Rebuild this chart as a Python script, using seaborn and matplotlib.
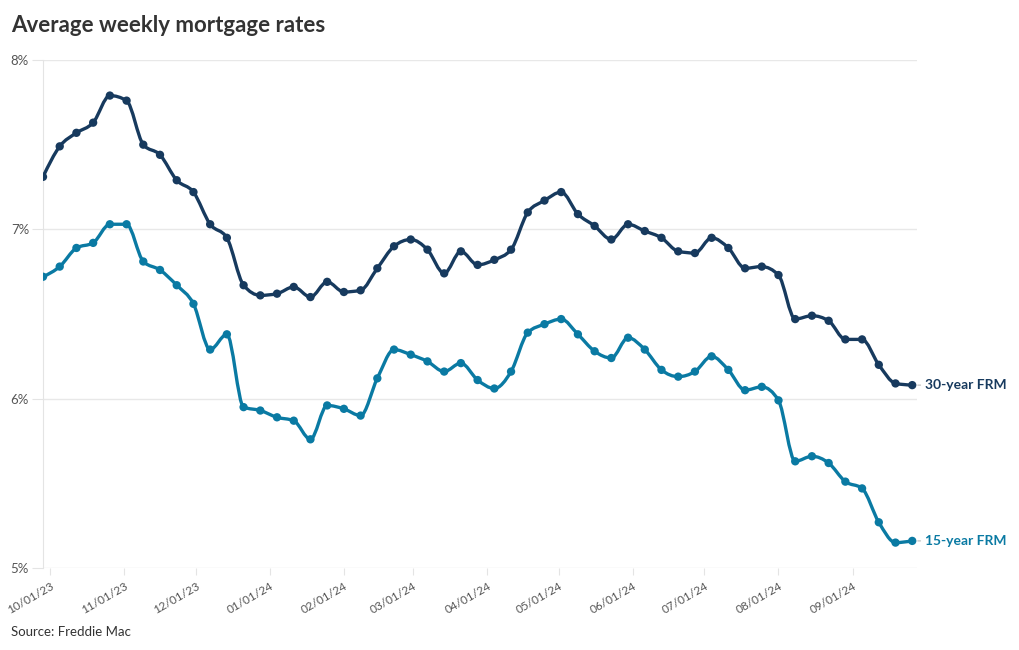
import numpy as np
import pandas as pd
import matplotlib
matplotlib.use("Agg")
import matplotlib.pyplot as plt
import matplotlib.dates as mdates
from matplotlib.path import Path
from matplotlib.patches import PathPatch
import seaborn as sns

dates = pd.date_range("2023-09-28", "2024-09-26", freq="7D")
rate_30 = [7.31, 7.49, 7.57, 7.63, 7.79, 7.76, 7.50, 7.44, 7.29, 7.22, 7.03, 6.95, 6.67,
           6.61, 6.62, 6.66, 6.60, 6.69, 6.63, 6.64, 6.77, 6.90, 6.94, 6.88, 6.74, 6.87,
           6.79, 6.82, 6.88, 7.10, 7.17, 7.22, 7.09, 7.02, 6.94, 7.03, 6.99, 6.95, 6.87,
           6.86, 6.95, 6.89, 6.77, 6.78, 6.73, 6.47, 6.49, 6.46, 6.35, 6.35, 6.20, 6.09, 6.08]
rate_15 = [6.72, 6.78, 6.89, 6.92, 7.03, 7.03, 6.81, 6.76, 6.67, 6.56, 6.29, 6.38, 5.95,
           5.93, 5.89, 5.87, 5.76, 5.96, 5.94, 5.90, 6.12, 6.29, 6.26, 6.22, 6.16, 6.21,
           6.11, 6.06, 6.16, 6.39, 6.44, 6.47, 6.38, 6.28, 6.24, 6.36, 6.29, 6.17, 6.13,
           6.16, 6.25, 6.17, 6.05, 6.07, 5.99, 5.63, 5.66, 5.62, 5.51, 5.47, 5.27, 5.15, 5.16]
series_names = ["30-year FRM", "15-year FRM"]
series_colors = ["#173a5e", "#0a7aa3"]
y_ticks = [5, 6, 7, 8]
x_ticks = pd.date_range("2023-10-01", "2024-09-01", freq="MS")

df = pd.DataFrame({"date": list(dates) * 2,
                   "rate": rate_30 + rate_15,
                   "series": [series_names[0]] * len(dates) + [series_names[1]] * len(dates)})

plt.rcParams["font.family"] = ["Lato", "DejaVu Sans"]
fig = plt.figure(figsize=(10.2, 6.5), dpi=100)
ax = fig.add_axes([43 / 1020, 1 - 568 / 650, (917 - 43) / 1020, (568 - 60) / 650])


def monotone_path(x, y):
    x = np.asarray(x, float)
    y = np.asarray(y, float)
    n = len(x)
    h = np.diff(x)
    s = np.diff(y) / h
    t = np.zeros(n)
    for i in range(1, n - 1):
        if s[i - 1] * s[i] <= 0:
            t[i] = 0
        else:
            p = (s[i - 1] * h[i] + s[i] * h[i - 1]) / (h[i - 1] + h[i])
            t[i] = (np.sign(s[i - 1]) + np.sign(s[i])) * min(abs(s[i - 1]), abs(s[i]), 0.5 * abs(p))
    t[0] = (3 * s[0] - t[1]) / 2 if n > 2 else s[0]
    t[-1] = (3 * s[-1] - t[-2]) / 2 if n > 2 else s[-1]
    verts = [(x[0], y[0])]
    codes = [Path.MOVETO]
    for i in range(n - 1):
        dx = h[i] / 3
        verts += [(x[i] + dx, y[i] + dx * t[i]), (x[i + 1] - dx, y[i + 1] - dx * t[i + 1]), (x[i + 1], y[i + 1])]
        codes += [Path.CURVE4] * 3
    return Path(verts, codes)


for name, color in zip(series_names, series_colors):
    sub = df[df.series == name]
    path = monotone_path(mdates.date2num(sub["date"]), sub["rate"].values)
    ax.add_patch(PathPatch(path, facecolor="none", edgecolor=color, lw=2.4, zorder=3,
                           capstyle="round", joinstyle="round"))

sns.scatterplot(data=df, x="date", y="rate", hue="series", palette=series_colors,
                hue_order=series_names, s=36, edgecolor="none", legend=False, ax=ax, zorder=4)

ax.set_xlim(pd.Timestamp("2023-09-28"), pd.Timestamp("2024-09-28"))
ax.set_ylim(5, 8)
ax.set_yticks(y_ticks)
ax.set_yticklabels([f"{v}%" for v in y_ticks])
ax.set_xticks(x_ticks)
ax.set_xticklabels([d.strftime("%m/%d/%y") for d in x_ticks], rotation=30, ha="right",
                   rotation_mode="anchor")
ax.set_xlabel("")
ax.set_ylabel("")
ax.grid(axis="y", color="#e8e8e8", lw=1)
ax.set_axisbelow(True)
for s in ["top", "right", "bottom"]:
    ax.spines[s].set_visible(False)
ax.spines["left"].set_color("#e4e4e4")
ax.tick_params(axis="y", length=8, color="#e4e4e4", labelsize=9.5, labelcolor="#555555", pad=2)
ax.tick_params(axis="x", length=5, color="#e4e4e4", labelsize=8.5, labelcolor="#555555", pad=4)

for name, color, vals in zip(series_names, series_colors, [rate_30, rate_15]):
    ax.annotate(name, xy=(dates[-1], vals[-1]), xytext=(9.5, 0), textcoords="offset points",
                va="center", ha="left", fontsize=10, fontweight="bold", color=color,
                annotation_clip=False,
                arrowprops=dict(arrowstyle="-", color="#bbbbbb", lw=0.8, shrinkA=1.5, shrinkB=4))

fig.text(11 / 1020, 1 - 25 / 650, "Average weekly mortgage rates", fontsize=16, fontweight="bold",
         color="#333333", va="center", ha="left")
fig.text(11 / 1020, 1 - 632 / 650, "Source: Freddie Mac", fontsize=9.5, color="#333333",
         va="center", ha="left")

fig.savefig("out.png", dpi=100)
